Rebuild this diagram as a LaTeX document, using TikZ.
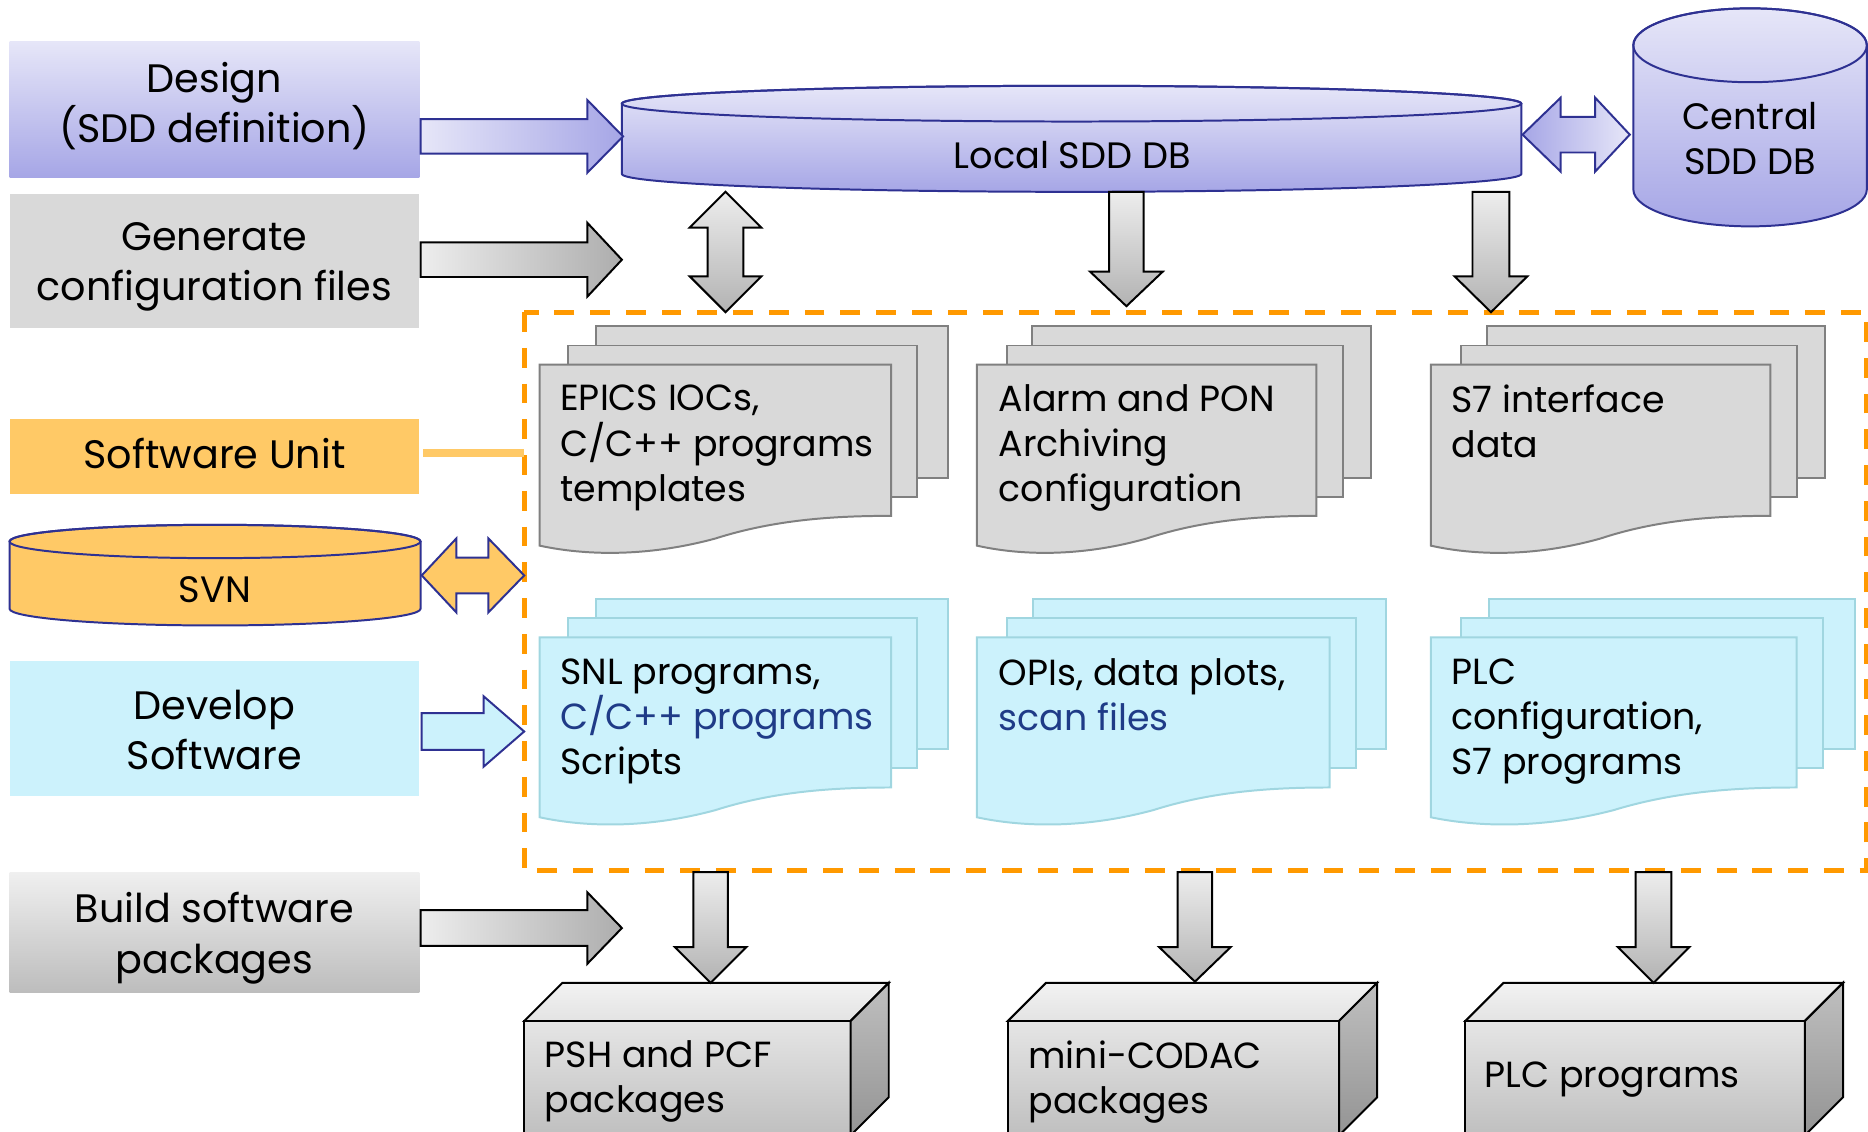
\documentclass[tikz,border=0pt]{standalone}
\usepackage{fontspec}
\setmainfont{Poppins}
\usetikzlibrary{calc}

\definecolor{lavtop}{HTML}{E6E6F8}
\definecolor{lavbot}{HTML}{A6A6E6}
\definecolor{navy}{HTML}{2E3192}
\definecolor{boxgray}{HTML}{D9D9D9}
\definecolor{unitorange}{HTML}{FFC966}
\definecolor{devcyan}{HTML}{CCF2FC}
\definecolor{dashorange}{HTML}{FF9900}
\definecolor{docgrayline}{HTML}{808080}
\definecolor{doccyanline}{HTML}{A0D6E0}
\definecolor{textblue}{HTML}{1F3B87}

% horizontal block arrow: style, x tail, x head base, x tip, y centre, shaft half, head half
\newcommand\hblock[7]{\path[#1] (#2,{#5-#6}) -- (#3,{#5-#6}) -- (#3,{#5-#7}) -- (#4,#5) -- (#3,{#5+#7}) -- (#3,{#5+#6}) -- (#2,{#5+#6}) -- cycle;}
% vertical block arrow: style, x centre, y tail, y head base, y tip, shaft half, head half
\newcommand\vblock[7]{\path[#1] ({#2-#6},#3) -- ({#2+#6},#3) -- ({#2+#6},#4) -- ({#2+#7},#4) -- (#2,#5) -- ({#2-#7},#4) -- ({#2-#6},#4) -- cycle;}
% horizontal double arrow: style, left tip, left base, right base, right tip, y centre, shaft half, head half
\newcommand\hdblock[8]{\path[#1] (#2,#6) -- (#3,{#6-#8}) -- (#3,{#6-#7}) -- (#4,{#6-#7}) -- (#4,{#6-#8}) -- (#5,#6) -- (#4,{#6+#8}) -- (#4,{#6+#7}) -- (#3,{#6+#7}) -- (#3,{#6+#8}) -- cycle;}
% vertical double arrow: style, x centre, top tip, top base, bottom base, bottom tip, shaft half, head half
\newcommand\vdblock[8]{\path[#1] (#2,#3) -- ({#2+#8},#4) -- ({#2+#7},#4) -- ({#2+#7},#5) -- ({#2+#8},#5) -- (#2,#6) -- ({#2-#8},#5) -- ({#2-#7},#5) -- ({#2-#7},#4) -- ({#2-#8},#4) -- cycle;}
% document sheet with wavy lower edge: style, left, top, right, lower right corner
\newcommand\sheet[5]{\path[#1] (#2,#3) -- (#4,#3) -- (#4,#5)
  .. controls ({#2+0.84*(#4-#2)},#5) and ({#2+0.67*(#4-#2)},{#5+3}) .. ({#2+0.5*(#4-#2)},{#5+19})
  .. controls ({#2+0.3*(#4-#2)},{#5+35}) and ({#2+0.125*(#4-#2)},{#5+33}) .. (#2,{#5+25}) -- cycle;}
% stack of three sheets: style, front l/r, middle l/r, back l/r, front top, front lower right
\newcommand\docstack[9]{%
  \path[#1] (#6,{#8-32}) rectangle (#7,{#9-32});
  \path[#1] (#4,{#8-16}) rectangle (#5,{#9-16});
  \sheet{#1}{#2}{#8}{#3}{#9}}
% package box drawn in perspective: left, right, top of front face
\newcommand\crate[3]{%
  \path[draw=black, line width=1pt, top color=black!10, bottom color=black!25] (#1,#3) rectangle (#2,953);
  \path[draw=black, line width=1pt, top color=black!5, bottom color=black!11] (#1,#3) -- ({#1+32},{#3-32}) -- ({#2+32},{#3-32}) -- (#2,#3) -- cycle;
  \path[draw=black, line width=1pt, top color=black!25, bottom color=black!42] (#2,#3) -- ({#2+32},{#3-32}) -- ({#2+32},921) -- (#2,953) -- cycle;}

\tikzset{
  navyedge/.style={draw=navy, line width=1pt},
  grayedge/.style={draw=black, line width=1pt},
  grayH/.style={grayedge, left color=black!7, right color=black!32},
  grayV/.style={grayedge, top color=black!7, bottom color=black!30},
  graysheet/.style={draw=docgrayline, line width=1pt, fill=boxgray},
  cyansheet/.style={draw=doccyanline, line width=1pt, fill=devcyan},
  biglabel/.style={font=\fontsize{20}{25.2}\selectfont, align=center, inner sep=0pt},
  dbtext/.style={font=\fontsize{18.5}{22.8}\selectfont, align=center, inner sep=0pt},
  doctext/.style={font=\fontsize{18.3}{22.8}\selectfont, align=left, anchor=west, inner sep=0pt},
  unitframe/.style={draw=dashorange, line width=2.5pt, dash pattern=on 10pt off 8pt},
}

\begin{document}
\begin{tikzpicture}[x=0.6pt, y=-0.6pt]
\useasboundingbox (0,0) rectangle (1568,950);
\clip (0,0) rectangle (1568,950);

% ---- activity labels on the left ----
\path[top color=lavtop, bottom color=lavbot] (8,35) rectangle (352,149);
\node[biglabel] (design) at (180,89) {Design\\(SDD definition)};
\path[fill=boxgray] (8,163) rectangle (352,275);
\node[biglabel] (generate) at (180,224) {Generate\\configuration files};
\path[fill=unitorange] (8,352) rectangle (352,415);
\node[biglabel] (unit) at (180,381) {Software Unit};
\path[fill=devcyan] (8,555) rectangle (352,668);
\node[biglabel] (develop) at (180,613) {Develop\\Software};
\path[top color=black!6, bottom color=black!26] (8,732) rectangle (352,833);
\node[biglabel] (build) at (180,787.5) {Build software\\packages};

% ---- SVN repository ----
\path[fill=unitorange, navyedge] (8,454.5) -- (8,511) arc[start angle=180, end angle=360, x radius=103.5pt, y radius=8.4pt] -- (353,454.5) arc[start angle=0, end angle=180, x radius=103.5pt, y radius=8.4pt] -- cycle;
\draw[navyedge] (180.5,454.5) ellipse[x radius=103.5pt, y radius=8.4pt];
\node[dbtext] (svn) at (180.5,495) {SVN};

% ---- local SDD database ----
\path[top color=lavtop, bottom color=lavbot, navyedge] (522,87) -- (522,146) arc[start angle=180, end angle=360, x radius=226.5pt, y radius=9pt] -- (1277,87) arc[start angle=0, end angle=180, x radius=226.5pt, y radius=9pt] -- cycle;
\draw[navyedge] (899.5,87) ellipse[x radius=226.5pt, y radius=9pt];
\node[dbtext] (localdb) at (900,130) {Local SDD DB};

% ---- central SDD database ----
\path[top color=lavtop, bottom color=lavbot, navyedge] (1371,38) -- (1371,159) arc[start angle=180, end angle=360, x radius=58.8pt, y radius=18.6pt] -- (1567,38) arc[start angle=0, end angle=180, x radius=58.8pt, y radius=18.6pt] -- cycle;
\draw[navyedge] (1469,38) ellipse[x radius=58.8pt, y radius=18.6pt];
\node[dbtext] (centraldb) at (1469,116) {Central\\SDD DB};

% ---- software unit frame ----
\draw[unitframe] (440,262) rectangle (1567,731);
\draw[unitorange, line width=4pt] (355,380) -- (440,380);

% ---- configuration file stacks ----
\docstack{graysheet}{453}{748}{477}{770}{500}{796}{306}{433}
\docstack{graysheet}{820}{1105}{845}{1127}{866}{1151}{306}{433}
\docstack{graysheet}{1201}{1486}{1226}{1508}{1248}{1532}{306}{433}
\node[doctext] (epics) at (470,376) {EPICS IOCs,\\C/C++ programs\\templates};
\node[doctext] (alarm) at (838,376) {Alarm and PON\\Archiving\\configuration};
\node[doctext] (s7data) at (1218,353.5) {S7 interface\\data};

% ---- developed software stacks ----
\docstack{cyansheet}{453}{748}{477}{770}{500}{796}{535}{661}
\docstack{cyansheet}{820}{1116}{845}{1138}{867}{1163}{535}{661}
\docstack{cyansheet}{1201}{1508}{1226}{1530}{1250}{1557}{535}{661}
\node[doctext] (snl) at (470,605.5) {SNL programs,\\\textcolor{textblue}{C/C++ programs}\\Scripts};
\node[doctext] (opi) at (838,583) {OPIs, data plots,\\\textcolor{textblue}{scan files}};
\node[doctext] (plc) at (1218,605.5) {PLC\\configuration,\\S7 programs};

% ---- packages ----
\crate{440}{714}{857}
\crate{846}{1124}{857}
\crate{1230}{1515}{857}
\node[doctext] (psh) at (457,908) {PSH and PCF\\packages};
\node[doctext] (codac) at (863,908) {mini-CODAC\\packages};
\node[doctext] (plcprog) at (1246,906) {PLC programs};

% ---- arrows ----
\hblock{navyedge, left color=lavtop, right color=lavbot}{353}{493}{523}{114.5}{14.5}{30.5}
\hblock{grayH}{353}{493}{522}{218}{14.5}{31}
\hblock{grayH}{353}{493}{522}{779}{15}{30}
\hblock{navyedge, fill=devcyan}{354}{406}{440}{614}{15.5}{29.5}
\hdblock{navyedge, fill=unitorange}{354}{383}{410}{440}{483}{15}{31}
\hdblock{navyedge, left color=lavbot, right color=lavtop}{1278}{1310}{1339}{1368}{113}{15}{31}
\vdblock{grayV}{609}{161}{191}{232}{262}{15}{30}
\vblock{grayV}{945.5}{161}{228}{257}{14.5}{30.5}
\vblock{grayV}{1251.5}{161}{232}{262}{15.5}{30.5}
\vblock{grayV}{596.5}{732}{795}{825}{14.5}{30}
\vblock{grayV}{1003}{732}{795}{824}{14.5}{30}
\vblock{grayV}{1388}{732}{795}{825}{15}{30}
\end{tikzpicture}
\end{document}
